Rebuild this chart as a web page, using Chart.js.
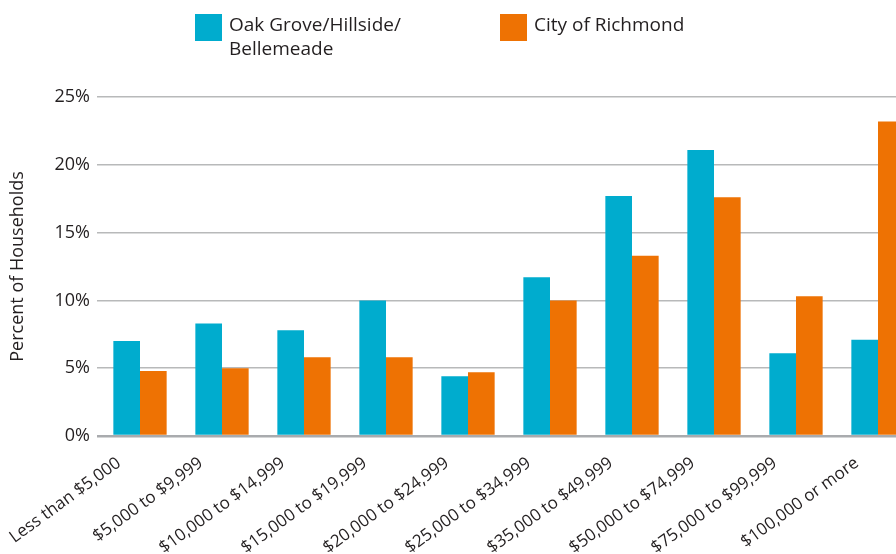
<!DOCTYPE html>
<html>
<head>
<meta charset="utf-8">
<script src="https://cdn.jsdelivr.net/npm/chart.js@4.4.1/dist/chart.umd.min.js"></script>
<style>
  html, body { margin: 0; padding: 0; background: #fff; overflow: hidden; }
</style>
</head>
<body>
<canvas id="incomeChart" width="920" height="554"></canvas>
<script>
const incomeBrackets = [
  'Less than $5,000', '$5,000 to $9,999', '$10,000 to $14,999', '$15,000 to $19,999',
  '$20,000 to $24,999', '$25,000 to $34,999', '$35,000 to $49,999', '$50,000 to $74,999',
  '$75,000 to $99,999', '$100,000 or more'
];
const oakGrove = [7.0, 8.3, 7.8, 10.0, 4.4, 11.7, 17.7, 21.1, 6.1, 7.1];
const richmond = [4.8, 5.0, 5.8, 5.8, 4.7, 10.0, 13.3, 17.6, 10.3, 23.2];
const seriesNames = [['Oak Grove/Hillside/', 'Bellemeade'], ['City of Richmond']];
const yTicks = [0, 5, 10, 15, 20, 25];

const BLUE = '#00acce';
const ORANGE = '#ee7203';
const INK = '#231f20';

// legend drawn by hand so the first entry can wrap onto two lines
const topLegend = {
  id: 'topLegend',
  afterDraw(chart) {
    const ctx = chart.ctx;
    const xs = [195, 500];
    ctx.save();
    ctx.font = '19px "Open Sans"';
    ctx.textBaseline = 'alphabetic';
    chart.data.datasets.forEach((ds, i) => {
      ctx.fillStyle = ds.backgroundColor;
      ctx.fillRect(xs[i], 14, 27, 27);
      ctx.fillStyle = INK;
      seriesNames[i].forEach((line, j) => ctx.fillText(line, xs[i] + 34, 31 + j * 24));
    });
    ctx.restore();
  }
};

new Chart(document.getElementById('incomeChart'), {
  type: 'bar',
  data: {
    labels: incomeBrackets,
    datasets: [
      { label: seriesNames[0].join(''), data: oakGrove, backgroundColor: BLUE },
      { label: seriesNames[1].join(''), data: richmond, backgroundColor: ORANGE }
    ]
  },
  options: {
    responsive: false,
    animation: false,
    layout: { padding: { top: 97, right: 1, left: 0, bottom: 0 } },
    datasets: { bar: { categoryPercentage: 0.65, barPercentage: 1.0 } },
    plugins: {
      legend: { display: false },
      tooltip: { enabled: false }
    },
    scales: {
      x: {
        grid: { display: false },
        border: { display: false },
        ticks: {
          color: INK,
          font: { family: 'Open Sans', size: 17 },
          maxRotation: 36,
          minRotation: 36,
          autoSkip: false,
          padding: 9,
          labelOffset: -21
        },
        afterFit(scale) { scale.height = 118; }
      },
      y: {
        min: 0,
        max: 25,
        border: { display: false },
        grid: {
          drawTicks: true,
          tickLength: 2,
          color: (c) => c.tick && c.tick.value === 0 ? '#a9abae' : '#b8b9ba',
          lineWidth: (c) => c.tick && c.tick.value === 0 ? 2.5 : 1.6
        },
        afterBuildTicks(scale) { scale.ticks = yTicks.map(v => ({ value: v })); },
        ticks: {
          color: INK,
          font: { family: 'Open Sans', size: 18 },
          padding: 7,
          callback: (v) => v + '%'
        },
        title: {
          display: true,
          text: 'Percent of Households',
          color: INK,
          font: { family: 'Open Sans', size: 18 },
          padding: { top: 7, bottom: 0 }
        },
        afterFit(scale) { scale.width = 99; }
      }
    }
  },
  plugins: [topLegend]
});
</script>
</body>
</html>
